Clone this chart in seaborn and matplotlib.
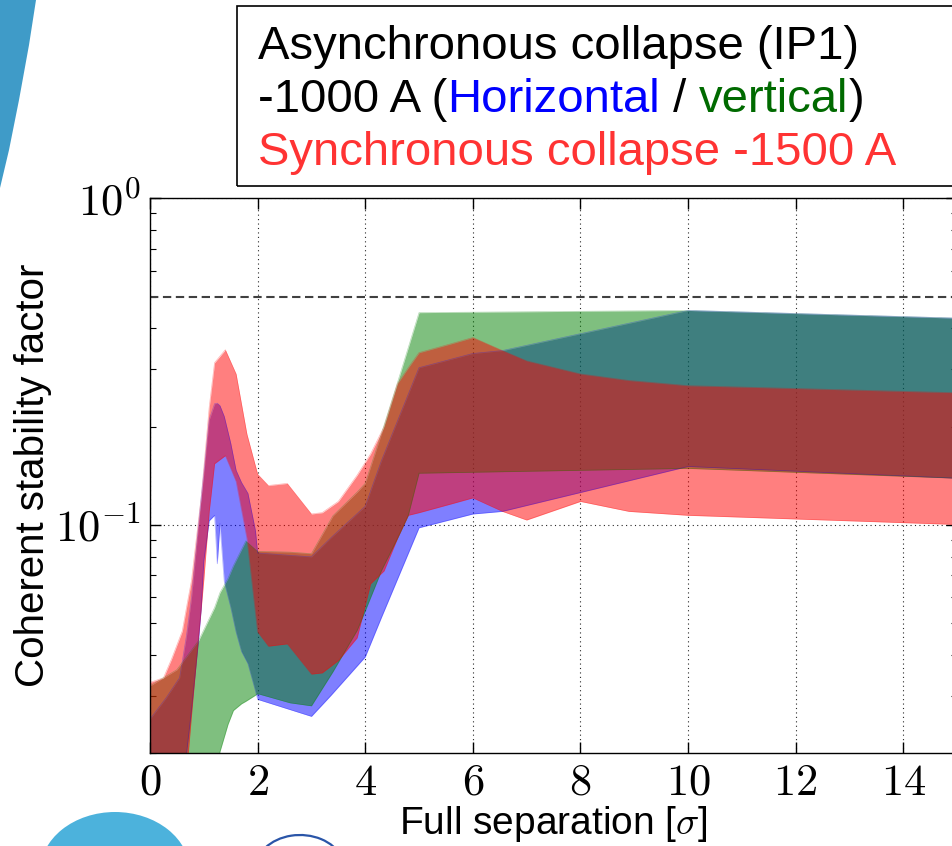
import numpy as np
import pandas as pd
import matplotlib
matplotlib.use("Agg")
import matplotlib.pyplot as plt
import seaborn as sns
from matplotlib.patches import Rectangle, Polygon, Ellipse, Arc
from matplotlib.ticker import FixedLocator, LogLocator, NullFormatter, FuncFormatter

# ---- values ----
# Asynchronous collapse, -1000 A, horizontal plane
blue_x = [0.0, 0.3, 0.55, 0.68, 0.77, 0.9, 0.95, 1.0, 1.1, 1.2, 1.25, 1.3, 1.38, 1.5,
          1.6, 1.7, 1.82, 1.96, 2.0, 3.0, 3.36, 4.0, 4.3, 5.0, 6.0, 6.55, 10.0, 15.0]
blue_lo = [0.011, 0.012, 0.013, 0.020, 0.027, 0.044, 0.055, 0.0775, 0.103, 0.107, 0.076, 0.101, 0.067, 0.056,
           0.047, 0.041, 0.0376, 0.031, 0.0292, 0.0259, 0.030, 0.0394, 0.052, 0.098, 0.108, 0.110, 0.151, 0.139]
blue_hi = [0.0254, 0.0295, 0.034, 0.046, 0.0597, 0.099, 0.121, 0.144, 0.210, 0.235, 0.236, 0.232, 0.215, 0.178,
           0.147, 0.135, 0.125, 0.096, 0.082, 0.0798, 0.0912, 0.114, 0.157, 0.303, 0.335, 0.342, 0.454, 0.430]

# Asynchronous collapse, -1000 A, vertical plane
green_x = [0.0, 0.5, 0.9, 1.2, 1.3, 1.45, 1.55, 1.7, 1.78, 1.95, 2.0, 2.6, 3.0, 3.4,
           3.85, 4.0, 4.3, 4.6, 4.8, 5.0, 10.0, 15.0]
green_lo = [0.010, 0.010, 0.011, 0.015, 0.0202, 0.0245, 0.0270, 0.0283, 0.0288, 0.0300, 0.0304, 0.0285, 0.0279, 0.0355,
            0.0475, 0.0545, 0.0723, 0.091, 0.107, 0.144, 0.149, 0.139]
green_hi = [0.0321, 0.036, 0.0441, 0.0558, 0.062, 0.0686, 0.075, 0.084, 0.0893, 0.0843, 0.083, 0.0825, 0.0816, 0.1066,
            0.126, 0.134, 0.190, 0.273, 0.349, 0.447, 0.454, 0.430]

# Synchronous collapse, -1500 A
red_x = [0.0, 0.25, 0.4, 0.6, 0.7, 0.77, 0.9, 0.95, 1.0, 1.1, 1.2, 1.4, 1.6, 1.8, 2.0, 2.2, 2.55,
         3.0, 3.2, 3.5, 3.85, 4.1, 4.35, 4.6, 4.8, 5.0, 5.6, 6.0, 6.55, 7.0, 8.0, 8.9, 10.0, 15.0]
red_lo = [0.010, 0.010, 0.011, 0.013, 0.019, 0.026, 0.045, 0.055, 0.068, 0.110, 0.154, 0.163, 0.136, 0.0912, 0.0470,
          0.0425, 0.0432, 0.0349, 0.0352, 0.0384, 0.0451, 0.0660, 0.0723, 0.091, 0.107, 0.109, 0.116, 0.121, 0.110,
          0.1035, 0.118, 0.110, 0.107, 0.1003]
red_hi = [0.0329, 0.034, 0.0388, 0.0473, 0.0584, 0.0673, 0.103, 0.121, 0.149, 0.229, 0.314, 0.344, 0.290, 0.190, 0.143,
          0.132, 0.134, 0.108, 0.109, 0.118, 0.142, 0.165, 0.200, 0.271, 0.303, 0.337, 0.359, 0.375, 0.342,
          0.318, 0.290, 0.277, 0.267, 0.254]

stability_limit = 0.5
x_ticks = [0, 2, 4, 6, 8, 10, 12, 14]

W, H = 952, 846

sns.set_style("ticks")
plt.rcParams['font.family'] = ['Liberation Sans', 'DejaVu Sans']
plt.rcParams['mathtext.fontset'] = 'cm'
plt.rcParams['text.color'] = 'black'
plt.rcParams['axes.labelcolor'] = 'black'

fig = plt.figure(figsize=(W / 100, H / 100), dpi=100)
fig.patch.set_facecolor('white')

# axes placed in pixels: x=0 at px 150, x=15 just past right edge
ax = fig.add_axes([150 / W, (H - 753) / H, 807 / W, (753 - 198.5) / H])
ax.set_yscale('log')

bands = [
    (blue_x, blue_lo, blue_hi, 'b'),
    (green_x, green_lo, green_hi, 'g'),
    (red_x, red_lo, red_hi, 'r'),
]
for bx, lo, hi, col in bands:
    ax.fill_between(bx, lo, hi, color=col, alpha=0.5, lw=0)
    edges = pd.DataFrame({'x': bx + bx, 'y': lo + hi,
                          'edge': ['lo'] * len(bx) + ['hi'] * len(bx)})
    sns.lineplot(data=edges, x='x', y='y', units='edge', estimator=None, sort=False,
                 color=col, alpha=0.3, lw=0.5, ax=ax, legend=False)

ax.axhline(stability_limit, color='#404040', lw=1.5, ls=(0, (4, 2.2)))

ax.set_xlim(0, 15)
ax.set_ylim(0.02, 1)

ax.xaxis.set_major_locator(FixedLocator(x_ticks))
ax.xaxis.set_major_formatter(FuncFormatter(lambda v, p: f'${v:.0f}$'))
ax.yaxis.set_major_locator(FixedLocator([0.1, 1.0]))
ax.yaxis.set_major_formatter(FuncFormatter(lambda v, p: f'$10^{{{int(round(np.log10(v)))}}}$'))
ax.yaxis.set_minor_locator(LogLocator(base=10, subs=np.arange(2, 10)))
ax.yaxis.set_minor_formatter(NullFormatter())

ax.tick_params(which='both', direction='in', top=True, right=True, colors='black')
ax.tick_params(which='major', length=8, width=1, labelsize=32, pad=7)
ax.tick_params(which='minor', length=4.5, width=0.8)
for s in ax.spines.values():
    s.set_color('black')
    s.set_linewidth(1.0)

ax.grid(True, which='major', color='black', ls=(0, (1, 3)), lw=0.8, alpha=0.85)

ax.set_xlabel(r'Full separation [$\sigma$]', fontsize=28, labelpad=0)
ax.set_ylabel('Coherent stability factor', fontsize=29, labelpad=2)

# legend-like text box above the plot (frame only, so text stays visible)
fig.patches.append(Rectangle((237 / W, 1 - 186 / H), (1010 - 237) / W, 180 / H,
                             transform=fig.transFigure, fill=False,
                             edgecolor='black', lw=1.2))
fs = 34
fig.text(258 / W, 1 - 59 / H, 'Asynchronous collapse (IP1)', fontsize=fs, va='baseline', color='black')
t = fig.text(258 / W, 1 - 112 / H, '-1000 A (', fontsize=fs, va='baseline', color='black')
for piece, col in [('Horizontal', '#0000ff'), (' / ', 'black'), ('vertical', '#006a00'), (')', 'black')]:
    t = ax.annotate(piece, xy=(1, 0), xycoords=t, va='bottom', ha='left',
                    fontsize=fs, color=col, annotation_clip=False)
fig.text(258 / W, 1 - 165 / H, 'Synchronous collapse -1500 A', fontsize=fs, va='baseline', color='#ff3333')

# slide decoration: blue swoosh top-left and logo shapes at bottom
swoosh = [(0, 0), (36, 0), (29, 45), (19, 100), (9, 150), (0, 188)]
fig.patches.append(Polygon([(px / W, 1 - py / H) for px, py in swoosh], closed=True,
                           transform=fig.transFigure, facecolor='#3f9bc8', edgecolor='none'))
fig.patches.append(Ellipse((115 / W, 1 - 872 / H), 150 / W, 120 / H, transform=fig.transFigure,
                           facecolor='#4cb2dc', edgecolor='none'))
fig.patches.append(Arc((300 / W, 1 - 870 / H), 90 / W, 70 / H, theta1=20, theta2=180,
                       transform=fig.transFigure, edgecolor='#2a55a8', lw=1.6))

fig.savefig('out.png', dpi=100)
